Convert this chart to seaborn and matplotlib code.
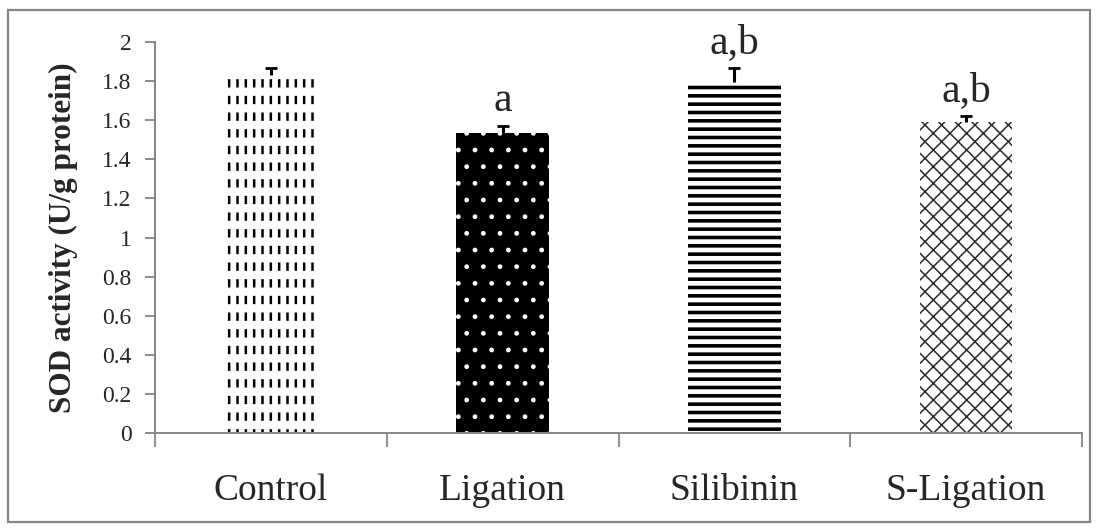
import matplotlib.pyplot as plt
import matplotlib.patches as mpatches
from matplotlib.ticker import FixedLocator
import seaborn as sns

# SOD activity per group (U/g protein)
groups = ["Control", "Ligation", "Silibinin", "S-Ligation"]
sod = [1.83, 1.535, 1.795, 1.59]
sod_err = [0.035, 0.035, 0.07, 0.03]
letters = ["", "a", "a,b", "a,b"]
y_ticks = [0, 0.2, 0.4, 0.6, 0.8, 1, 1.2, 1.4, 1.6, 1.8, 2]

# per bar look: face, hatch colour, hatch, hatch width
bar_styles = [
    ("white", "black", "||", 1.8),
    ("black", "white", ".", 1.0),
    ("white", "black", "--", 2.6),
    ("white", "#2a2a2a", "xx", 1.1),
]

sns.set_style("white")
plt.rcParams["font.family"] = ["Liberation Serif", "DejaVu Serif"]
plt.rcParams["hatch.linewidth"] = 1.6
gray = "#868686"

fig = plt.figure(figsize=(10.97, 5.29), dpi=100)
ax = fig.add_axes([155 / 1097, 96 / 529, 927 / 1097, 391 / 529])

sns.barplot(x=groups, y=sod, width=0.4, color="white", saturation=1,
            errorbar=None, ax=ax)

for p, (face, hcol, hatch, hlw) in zip(ax.patches, bar_styles):
    p.set_facecolor(face)
    p.set_edgecolor(hcol)
    p.set_linewidth(0)
    p.set_hatch(hatch)
    if hasattr(p, "set_hatch_linewidth"):
        p.set_hatch_linewidth(hlw)

# break the vertical lines of the control bar into dashes
ctrl = ax.patches[0]
cover = mpatches.Rectangle(ctrl.get_xy(), ctrl.get_width(), ctrl.get_height(),
                           facecolor="none", edgecolor="white", linewidth=0,
                           hatch="-", zorder=ctrl.get_zorder() + 0.1)
if hasattr(cover, "set_hatch_linewidth"):
    cover.set_hatch_linewidth(6)
ax.add_patch(cover)

# upper half error bars only
_, caps, _ = ax.errorbar(x=range(len(groups)), y=sod,
                         yerr=[[0] * len(sod), sod_err],
                         fmt="none", ecolor="black", elinewidth=2.2,
                         capsize=4.5, capthick=2, zorder=5)
caps[0].set_visible(False)

for i, (v, e, t) in enumerate(zip(sod, sod_err, letters)):
    if t:
        ax.annotate(t, (i, v + e), xytext=(0, 11), textcoords="offset points",
                    ha="center", va="baseline", fontsize=30)

ax.set_xlim(-0.5, len(groups) - 0.5)
ax.set_ylim(0, 2)
ax.set_yticks(y_ticks)
ax.set_yticklabels([f"{t:g}" for t in y_ticks])
ax.xaxis.set_minor_locator(FixedLocator([i - 0.5 for i in range(len(groups) + 1)]))

for s in ["top", "right"]:
    ax.spines[s].set_visible(False)
for s in ["left", "bottom"]:
    ax.spines[s].set_color(gray)
    ax.spines[s].set_linewidth(1.4)

ax.tick_params(axis="y", left=True, direction="out", length=7, width=1.3,
               color=gray, labelsize=17, pad=10)
ax.tick_params(axis="x", which="major", bottom=True, length=0, labelsize=27, pad=29)
ax.tick_params(axis="x", which="minor", bottom=True, direction="out", length=10,
               width=1.3, color=gray)

ax.set_xlabel("")
ax.set_ylabel("SOD activity (U/g protein)", fontsize=22.5, fontweight="bold")
ax.yaxis.set_label_coords(-0.083, 0.5)

fig.add_artist(mpatches.Rectangle((8 / 1097, 7 / 529), 1082 / 1097, 512 / 529,
                                  transform=fig.transFigure, fill=False,
                                  edgecolor=gray, linewidth=1.6))

fig.savefig("out.png", dpi=100)
